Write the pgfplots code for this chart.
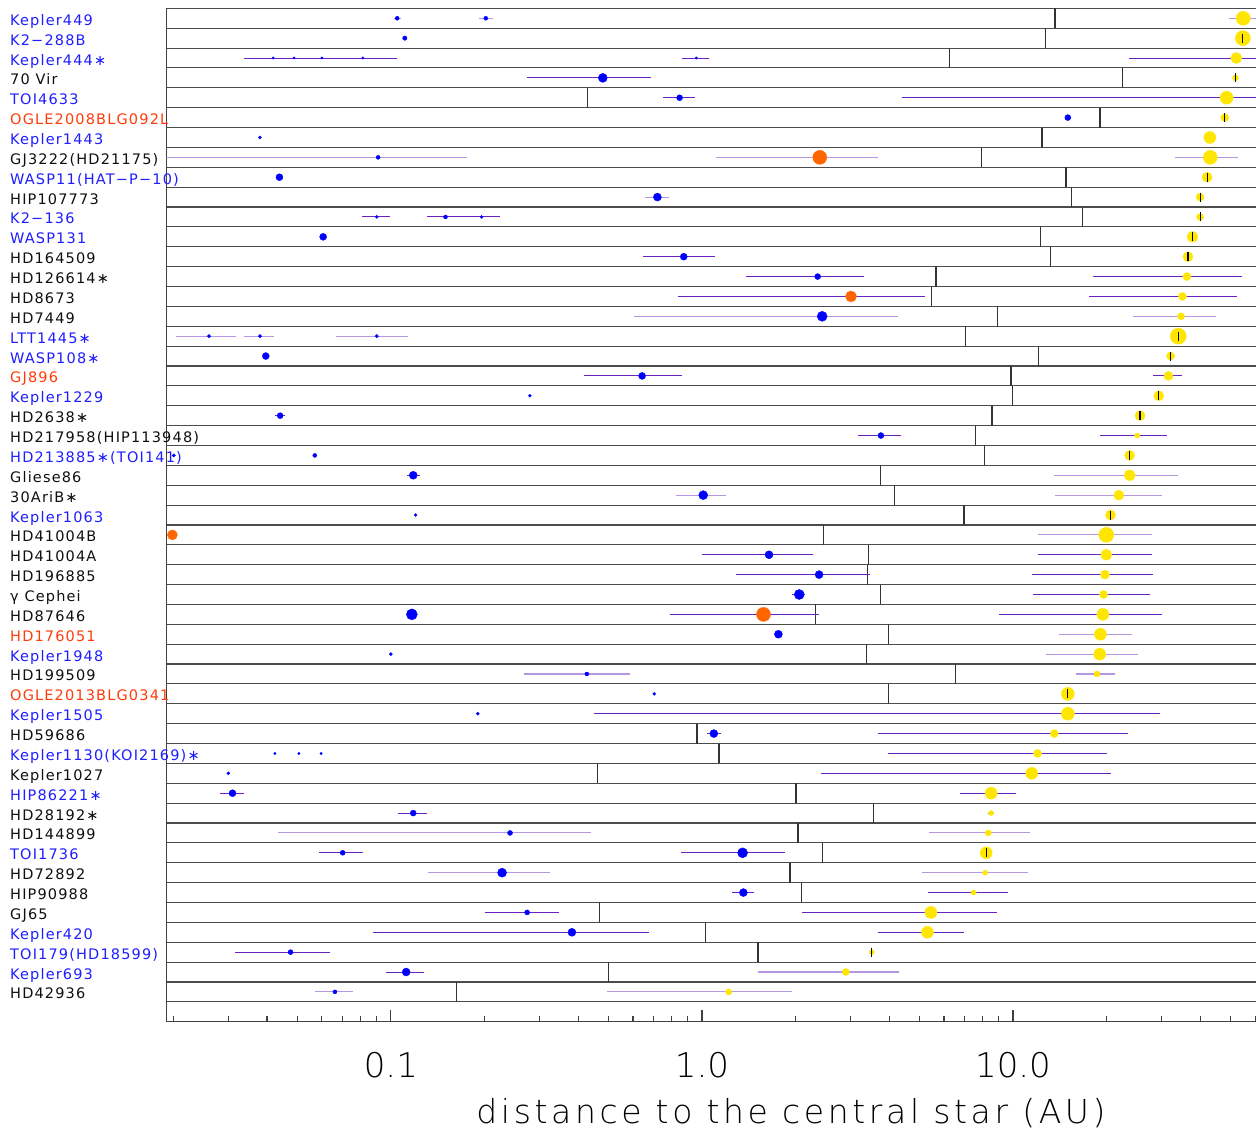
\documentclass[border=0pt]{standalone}
\usepackage{pgfplots}
\pgfplotsset{compat=1.18}
\usepackage{fontspec}
\setmainfont{DejaVu Sans}
\newfontfamily\lblfont{DejaVu Sans}[LetterSpace=8]
\IfFontExistsTF{DejaVu Sans ExtraLight}{%
  \newfontfamily\ttlfont{DejaVu Sans ExtraLight}[LetterSpace=11]
  \newfontfamily\tckfont{DejaVu Sans ExtraLight}
}{%
  \newfontfamily\ttlfont{DejaVu Sans}[LetterSpace=11]
  \newfontfamily\tckfont{DejaVu Sans}
}
\definecolor{lblue}{RGB}{30,30,255}
\definecolor{lorange}{RGB}{255,60,10}
\definecolor{dblue}{RGB}{0,0,255}
\definecolor{dorange}{RGB}{255,102,0}
\definecolor{dyellow}{RGB}{255,230,0}
\definecolor{dpurple}{RGB}{105,35,195}
\definecolor{lpurple}{RGB}{180,150,225}
\definecolor{lblack}{RGB}{15,15,15}

% stability limit of each system: x, row-0.5 / x, row+0.5
\pgfplotstableread{
x y
13.64 -0.5
13.64 0.5
nan nan
12.72 0.5
12.72 1.5
nan nan
6.257 1.5
6.257 2.5
nan nan
22.5 2.5
22.5 3.5
nan nan
0.4277 3.5
0.4277 4.5
nan nan
19.05 4.5
19.05 5.5
nan nan
12.40 5.5
12.40 6.5
nan nan
7.907 6.5
7.907 7.5
nan nan
14.81 7.5
14.81 8.5
nan nan
15.43 8.5
15.43 9.5
nan nan
16.71 9.5
16.71 10.5
nan nan
12.27 10.5
12.27 11.5
nan nan
13.19 11.5
13.19 12.5
nan nan
5.657 12.5
5.657 13.5
nan nan
5.472 13.5
5.472 14.5
nan nan
8.924 14.5
8.924 15.5
nan nan
7.024 15.5
7.024 16.5
nan nan
12.08 16.5
12.08 17.5
nan nan
9.84 17.5
9.84 18.5
nan nan
9.94 18.5
9.94 19.5
nan nan
8.56 19.5
8.56 20.5
nan nan
7.587 20.5
7.587 21.5
nan nan
8.114 21.5
8.114 22.5
nan nan
3.741 22.5
3.741 23.5
nan nan
4.168 23.5
4.168 24.5
nan nan
6.953 24.5
6.953 25.5
nan nan
2.454 25.5
2.454 26.5
nan nan
3.428 26.5
3.428 27.5
nan nan
3.41 27.5
3.41 28.5
nan nan
3.751 28.5
3.751 29.5
nan nan
2.319 29.5
2.319 30.5
nan nan
3.97 30.5
3.97 31.5
nan nan
3.376 31.5
3.376 32.5
nan nan
6.52 32.5
6.52 33.5
nan nan
3.98 33.5
3.98 34.5
nan nan
0.9639 35.5
0.9639 36.5
nan nan
1.135 36.5
1.135 37.5
nan nan
0.4607 37.5
0.4607 38.5
nan nan
2.008 38.5
2.008 39.5
nan nan
3.553 39.5
3.553 40.5
nan nan
2.034 40.5
2.034 41.5
nan nan
2.435 41.5
2.435 42.5
nan nan
1.917 42.5
1.917 43.5
nan nan
2.087 43.5
2.087 44.5
nan nan
0.469 44.5
0.469 45.5
nan nan
1.025 45.5
1.025 46.5
nan nan
1.514 46.5
1.514 47.5
nan nan
0.5003 47.5
0.5003 48.5
nan nan
0.1622 48.5
0.1622 49.5
}\vlines

\pgfplotstableread{
x y r
54.95 0 7
54.8 1 7.5
52.2 2 5.5
51.9 3 3
48.6 4 6.5
47.96 5 4
42.94 6 6
43.05 7 7
42.06 8 5
39.95 9 4
39.95 10 3.5
37.75 11 5.5
36.5 12 5
36.23 13 4
35.04 14 4
34.68 15 3.5
33.98 16 8
32.1 17 4
31.6 18 4.5
29.42 19 5
25.6 20 5
25.07 21 2.5
23.71 22 5
23.71 23 5.5
21.89 24 5
20.58 25 5
19.95 26 7.5
19.95 27 5.5
19.75 28 4.5
19.55 29 4
19.45 30 6
19.1 31 6
19.0 32 6
18.62 33 3
15.0 34 6.5
15.0 35 6.5
13.57 36 4
11.99 37 4
11.48 38 6
8.5 39 6
8.5 40 2.5
8.326 41 3
8.198 42 6
8.136 43 2.5
7.471 44 2.5
5.445 45 6
5.307 46 6
3.517 47 2.5
2.901 48 3.5
1.219 49 3
}\yellowdots

\pgfplotstableread{
x y r
0.1048 0 2
0.2019 0 2
0.1109 1 2.2
0.04183 2 1.2
0.04883 2 1.2
0.05998 2 1.2
0.08127 2 1.2
0.959 2 1.2
0.480 3 4.5
0.8475 4 3
15.0 5 3
0.03795 6 1.5
0.0910 7 2
0.04383 8 3.5
0.7191 9 4
0.0901 10 1.5
0.1498 10 2
0.1957 10 1.5
0.06059 11 3.5
0.874 12 3.5
2.355 13 3
2.435 15 5
0.02602 16 1.7
0.03795 16 1.7
0.0901 16 1.7
0.03963 17 3.5
0.6422 18 3.5
0.2798 19 1.5
0.04406 20 3
3.761 21 3
0.02006 22 1.7
0.05695 22 2
0.118 23 4
1.0095 24 4.5
0.1201 25 1.5
1.643 27 4
2.38 28 4
2.055 29 5
0.1168 30 5.5
1.761 31 4
0.1 32 1.5
0.4266 33 2
0.7027 34 1.5
0.1903 35 1.5
1.092 36 4
0.04239 37 1.2
0.05062 37 1.2
0.05966 37 1.2
0.03003 38 1.5
0.03097 39 3.5
0.118 40 3
0.2416 41 2.5
0.07 42 2.5
1.351 42 5
0.2278 43 4.5
1.359 44 4
0.2742 45 2.5
0.382 46 4
0.04759 47 2.5
0.112 48 4
0.0661 49 2
}\bluedots

\pgfplotstableread{
x y r
2.392 7 7
3.014 14 5.5
0.01985 26 5
1.577 30 7
}\orangedots

\pgfplotstableread{
x y
54.8 1
51.9 3
47.96 5
42.06 8
39.95 9
39.95 10
37.75 11
36.5 12
33.98 16
32.1 17
29.42 19
25.6 20
23.71 22
20.58 25
15.0 34
8.198 42
3.517 47
}\blackbars

\pgfplotstableread{
x y
0.03371 2
0.1045 2
nan nan
0.865 2
1.052 2
nan nan
23.59 2
70 2
nan nan
0.2749 3
0.6848 3
nan nan
0.751 4
0.9467 4
nan nan
4.388 4
70 4
nan nan
0.0810 10
0.0990 10
nan nan
0.1307 10
0.2237 10
nan nan
0.6486 12
1.103 12
nan nan
1.39 13
3.315 13
nan nan
18.09 13
54.4 13
nan nan
0.8368 14
5.2 14
nan nan
17.59 14
52.48 14
nan nan
0.4179 18
0.865 18
nan nan
28.23 18
35.04 18
nan nan
0.04228 20
0.04577 20
nan nan
3.182 21
4.354 21
nan nan
19.0 21
31.2 21
nan nan
0.1126 23
0.1238 23
nan nan
1.002 27
2.278 27
nan nan
12.02 27
28.02 27
nan nan
1.29 28
3.481 28
nan nan
11.51 28
28.09 28
nan nan
1.952 29
2.152 29
nan nan
11.57 29
27.59 29
nan nan
0.7888 30
2.374 30
nan nan
8.99 30
30.04 30
nan nan
0.4502 35
29.57 35
nan nan
1.036 36
1.15 36
nan nan
3.684 36
23.46 36
nan nan
3.97 37
20.05 37
nan nan
2.417 38
20.63 38
nan nan
0.02831 39
0.03371 39
nan nan
6.758 39
10.25 39
nan nan
0.1056 40
0.1303 40
nan nan
8.305 40
8.718 40
nan nan
0.0589 42
0.0813 42
nan nan
0.854 42
1.85 42
nan nan
1.251 44
1.472 44
nan nan
5.321 44
9.66 44
nan nan
0.2003 45
0.348 45
nan nan
2.098 45
8.855 45
nan nan
0.0873 46
0.676 46
nan nan
3.674 46
6.953 46
nan nan
0.03153 47
0.0636 47
nan nan
0.09652 48
0.1274 48
}\darkbars

\pgfplotstableread{
x y
0.1021 0
0.108 0
nan nan
0.1927 0
0.2126 0
nan nan
49.6 0
70 0
nan nan
0.015 7
0.1757 7
nan nan
1.109 7
3.674 7
nan nan
33.2 7
52.9 7
nan nan
0.6555 9
0.7848 9
nan nan
0.6037 15
4.277 15
nan nan
24.26 15
45.08 15
nan nan
0.02032 16
0.0317 16
nan nan
0.0338 16
0.0422 16
nan nan
0.0666 16
0.1132 16
nan nan
13.57 23
33.88 23
nan nan
0.828 24
1.191 24
nan nan
13.6 24
30.19 24
nan nan
12.02 26
28.02 26
nan nan
14.03 31
24.2 31
nan nan
12.76 32
25.27 32
nan nan
0.2679 33
0.5853 33
nan nan
15.95 33
21.33 33
nan nan
0.04338 41
0.4411 41
nan nan
5.377 41
11.31 41
nan nan
0.1317 43
0.324 43
nan nan
5.093 43
11.19 43
nan nan
1.514 48
4.287 48
nan nan
0.05711 49
0.07541 49
nan nan
0.4965 49
1.942 49
}\lightbars

\begin{document}
\begin{tikzpicture}
\useasboundingbox (0,0) rectangle (1256pt,1131pt);
\begin{axis}[
  at={(166.5pt,109.3pt)}, anchor=south west,
  scale only axis, width=1089.5pt, height=1013.4pt,
  xmode=log, xmin=0.019, xmax=60.4,
  ymin=-0.5, ymax=50.5, y dir=reverse,
  axis x line*=bottom, axis y line*=left,
  axis line style={-, black!75, line width=1.2pt},
  xtick={0.1,1,10}, xticklabels={0.1,1.0,10.0},
  minor xtick={0.02,0.03,0.04,0.05,0.06,0.07,0.08,0.09,0.2,0.3,0.4,0.5,0.6,0.7,0.8,0.9,2,3,4,5,6,7,8,9,20,30,40,50,60},
  tick align=inside,
  major tick length=12pt, minor tick length=6pt,
  x tick style={black!75, line width=1.2pt},
  xticklabel style={font=\tckfont\fontsize{34}{40}\selectfont, inner sep=0pt, anchor=north, yshift=-30pt},
  ytick={0,...,49},
  yticklabels={
    \textcolor{lblue}{Kepler449},
    \textcolor{lblue}{K2−288B},
    \textcolor{lblue}{Kepler444∗},
    \textcolor{lblack}{70 Vir},
    \textcolor{lblue}{TOI4633},
    \textcolor{lorange}{OGLE2008BLG092L},
    \textcolor{lblue}{Kepler1443},
    \textcolor{lblack}{GJ3222(HD21175)},
    \textcolor{lblue}{WASP11(HAT−P−10)},
    \textcolor{lblack}{HIP107773},
    \textcolor{lblue}{K2−136},
    \textcolor{lblue}{WASP131},
    \textcolor{lblack}{HD164509},
    \textcolor{lblack}{HD126614∗},
    \textcolor{lblack}{HD8673},
    \textcolor{lblack}{HD7449},
    \textcolor{lblue}{LTT1445∗},
    \textcolor{lblue}{WASP108∗},
    \textcolor{lorange}{GJ896},
    \textcolor{lblue}{Kepler1229},
    \textcolor{lblack}{HD2638∗},
    \textcolor{lblack}{HD217958(HIP113948)},
    \textcolor{lblue}{HD213885∗(TOI141)},
    \textcolor{lblack}{Gliese86},
    \textcolor{lblack}{30AriB∗},
    \textcolor{lblue}{Kepler1063},
    \textcolor{lblack}{HD41004B},
    \textcolor{lblack}{HD41004A},
    \textcolor{lblack}{HD196885},
    \textcolor{lblack}{γ Cephei},
    \textcolor{lblack}{HD87646},
    \textcolor{lorange}{HD176051},
    \textcolor{lblue}{Kepler1948},
    \textcolor{lblack}{HD199509},
    \textcolor{lorange}{OGLE2013BLG0341},
    \textcolor{lblue}{Kepler1505},
    \textcolor{lblack}{HD59686},
    \textcolor{lblue}{Kepler1130(KOI2169)∗},
    \textcolor{lblack}{Kepler1027},
    \textcolor{lblue}{HIP86221∗},
    \textcolor{lblack}{HD28192∗},
    \textcolor{lblack}{HD144899},
    \textcolor{lblue}{TOI1736},
    \textcolor{lblack}{HD72892},
    \textcolor{lblack}{HIP90988},
    \textcolor{lblack}{GJ65},
    \textcolor{lblue}{Kepler420},
    \textcolor{lblue}{TOI179(HD18599)},
    \textcolor{lblue}{Kepler693},
    \textcolor{lblack}{HD42936}},
  y tick style={draw=none},
  yticklabel style={font=\lblfont\fontsize{14.5}{16}\selectfont, anchor=base west, inner sep=0pt, xshift=-156.5pt, yshift=-7pt},
  minor ytick={-0.5,0.5,...,49.5},
  yminorgrids, minor grid style={black!70, line width=1.1pt},
  xlabel={distance to the central star (AU)},
  xlabel style={font=\ttlfont\fontsize{33}{40}\selectfont, at={(axis description cs:0.5732,0)}, anchor=base, inner sep=0pt, yshift=-101.6pt},
]
% stability limits
\addplot[black!80, line width=1.3pt, mark=none, unbounded coords=jump] table[x=x,y=y] {\vlines};
% companions
\addplot[scatter, only marks, mark=*, scatter/use mapped color={draw=dyellow, fill=dyellow},
  visualization depends on={\thisrow{r}\as\rr},
  scatter/@pre marker code/.append style={/tikz/mark size=\rr}] table[x=x,y=y] {\yellowdots};
% error bars
\addplot[lpurple, line width=1.1pt, mark=none, unbounded coords=jump] table[x=x,y=y] {\lightbars};
\addplot[dpurple, line width=1pt, mark=none, unbounded coords=jump] table[x=x,y=y] {\darkbars};
% planets
\addplot[scatter, only marks, mark=*, scatter/use mapped color={draw=dblue, fill=dblue},
  visualization depends on={\thisrow{r}\as\rr},
  scatter/@pre marker code/.append style={/tikz/mark size=\rr}] table[x=x,y=y] {\bluedots};
\addplot[scatter, only marks, mark=*, scatter/use mapped color={draw=dorange, fill=dorange},
  visualization depends on={\thisrow{r}\as\rr},
  scatter/@pre marker code/.append style={/tikz/mark size=\rr}] table[x=x,y=y] {\orangedots};
\addplot[only marks, mark=|, mark size=4.5pt, black, line width=1.2pt] table[x=x,y=y] {\blackbars};
\end{axis}
\end{tikzpicture}
\end{document}
